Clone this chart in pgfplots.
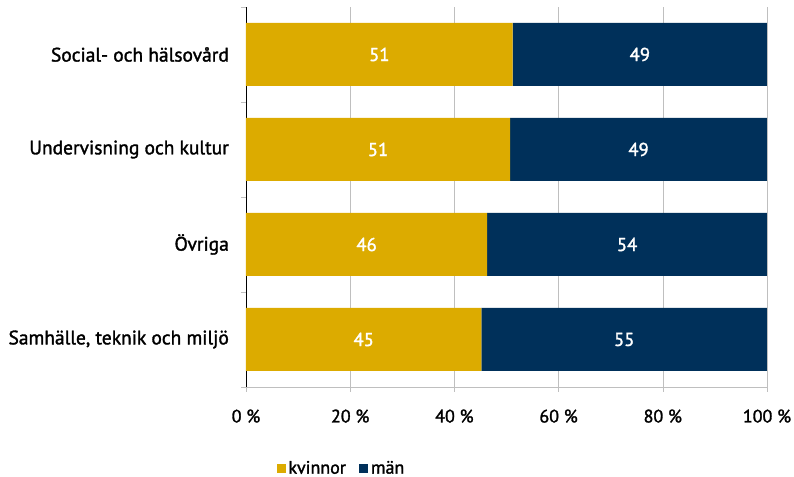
\documentclass[border=0pt]{standalone}
\usepackage{pgfplots}
\pgfplotsset{compat=1.18}
\usepackage{fontspec}
\setmainfont{PT Sans}[FakeBold=1.6]
\definecolor{gold}{HTML}{DCAB00}
\definecolor{navy}{HTML}{00305A}
\definecolor{gridgrey}{HTML}{BFBFBF}
\pgfplotsset{
  base/.style={
    at={(0pt,0pt)}, anchor=south west,
    scale only axis, width=390.75pt, height=285pt,
    xmin=0, xmax=100, ymin=-0.5, ymax=3.5,
  }
}
\begin{document}
\begin{tikzpicture}
\useasboundingbox (-184.5pt,-67.5pt) rectangle (411pt,290.25pt);
\begin{axis}[
  base,
  xbar stacked, bar width=47.25pt,
  axis x line*=bottom, axis y line*=left,
  x axis line style={gridgrey,-},
  y axis line style={black,-},
  xmajorgrids, major grid style={gridgrey},
  xtick={0,20,40,60,80,100},
  xticklabels={0 \%,20 \%,40 \%,60 \%,80 \%,100 \%},
  x tick label style={font=\fontsize{13.5}{15}\selectfont, inner sep=0pt, anchor=north},
  xticklabel shift=13pt,
  ytick={-0.5,0.5,1.5,2.5,3.5}, yticklabels={},
  tick style={gridgrey}, tick align=outside, major tick length=3.75pt,
  extra y ticks={0,1,2,3},
  extra y tick labels={{Samhälle, teknik och miljö},Övriga,Undervisning och kultur,Social- och hälsovård},
  extra y tick style={tick style={draw=none}, y tick label style={font=\fontsize{14.6}{17}\selectfont, inner sep=0pt, anchor=east}},
  yticklabel shift=8.9pt,
  legend style={at={(0.051,-0.214)}, anchor=west, draw=none, fill=none,
    font=\fontsize{13.5}{16}\selectfont, legend columns=2,
    /tikz/every even column/.append style={column sep=8pt}},
  legend image code/.code={\fill[#1] (0pt,-3.4pt) rectangle (6.75pt,3.4pt);},
]
\addplot[fill=gold, draw=none] coordinates {(45.2,0) (46.3,1) (50.7,2) (51.2,3)};
\addlegendentry{kvinnor}
\addplot[fill=navy, draw=none] coordinates {(54.8,0) (53.7,1) (49.3,2) (48.8,3)};
\addlegendentry{män}
\end{axis}
\begin{axis}[base, hide axis]
\addplot[only marks, mark=none, nodes near coords, point meta=explicit symbolic,
  every node near coord/.append style={anchor=center, text=white, font=\fontsize{14}{16}\selectfont}]
  coordinates {(22.6,0) [45] (23.15,1) [46] (25.35,2) [51] (25.6,3) [51]
               (72.6,0) [55] (73.15,1) [54] (75.35,2) [49] (75.6,3) [49]};
\end{axis}
\end{tikzpicture}
\end{document}
